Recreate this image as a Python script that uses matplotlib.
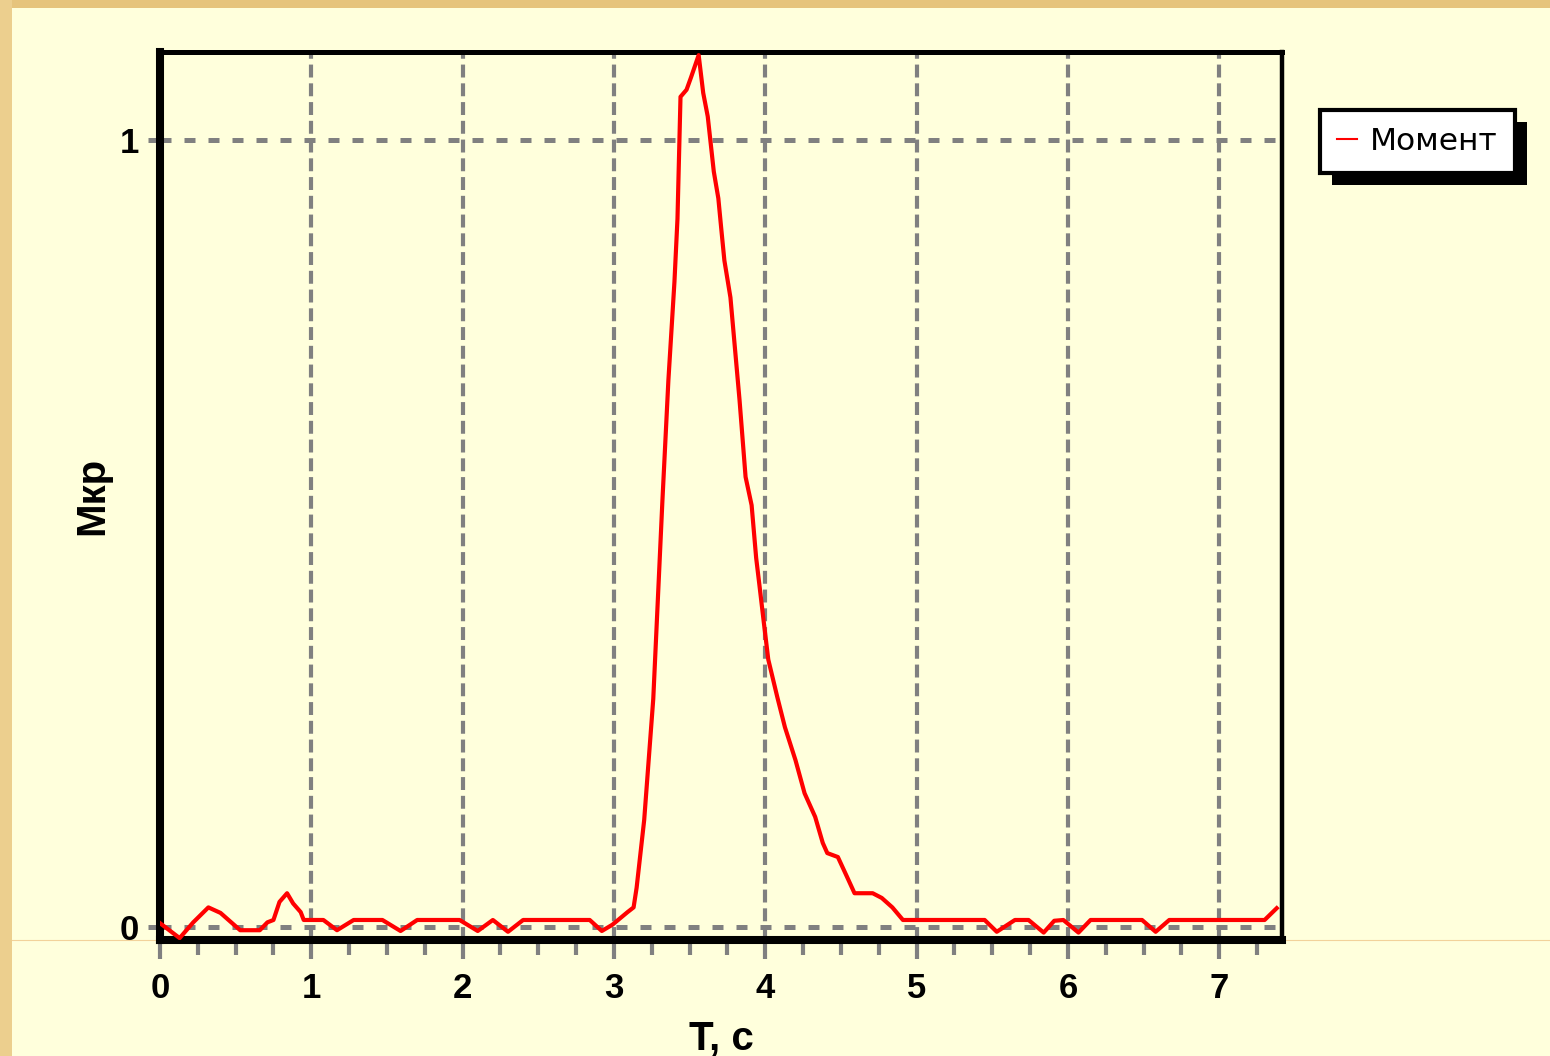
import matplotlib
matplotlib.use("Agg")
import matplotlib.pyplot as plt
from matplotlib.patches import Rectangle
from matplotlib.lines import Line2D
from matplotlib.ticker import MultipleLocator

# torque curve
t_sec = [0.0, 0.13, 0.22, 0.32, 0.40, 0.53, 0.66, 0.71, 0.75, 0.79, 0.84, 0.88, 0.93, 0.95,
         1.08, 1.17, 1.28, 1.47, 1.59, 1.70, 1.98, 2.10, 2.20, 2.30, 2.40, 2.84, 2.92, 2.99,
         3.09, 3.13, 3.15, 3.20, 3.26, 3.29, 3.32, 3.36, 3.40, 3.42, 3.44, 3.48, 3.51, 3.56,
         3.59, 3.62, 3.66, 3.69, 3.71, 3.73, 3.77, 3.83, 3.87, 3.91, 3.94, 3.96, 3.99, 4.02,
         4.08, 4.13, 4.20, 4.26, 4.33, 4.38, 4.41, 4.48, 4.54, 4.59, 4.71, 4.77, 4.84, 4.91,
         5.45, 5.53, 5.65, 5.74, 5.84, 5.91, 5.97, 6.07, 6.15, 6.49, 6.58, 6.67, 7.30, 7.38]
torque = [0.005, -0.014, 0.006, 0.025, 0.018, -0.004, -0.004, 0.006, 0.009, 0.032, 0.043, 0.030, 0.019, 0.009,
          0.009, -0.004, 0.009, 0.009, -0.005, 0.009, 0.009, -0.005, 0.009, -0.006, 0.009, 0.009, -0.005, 0.003,
          0.019, 0.025, 0.050, 0.136, 0.290, 0.415, 0.540, 0.695, 0.820, 0.900, 1.055, 1.064, 1.080, 1.108,
          1.060, 1.030, 0.960, 0.926, 0.886, 0.847, 0.800, 0.670, 0.572, 0.536, 0.469, 0.437, 0.388, 0.340,
          0.292, 0.254, 0.212, 0.170, 0.140, 0.107, 0.094, 0.089, 0.064, 0.043, 0.043, 0.037, 0.025, 0.009,
          0.009, -0.006, 0.009, 0.009, -0.007, 0.008, 0.009, -0.007, 0.009, 0.009, -0.006, 0.009, 0.009, 0.024]

x_ticks = [0, 1, 2, 3, 4, 5, 6, 7]
y_ticks = [0, 1]
series_name = "Момент"

cream = "#FFFFDC"
grey = "#808080"

plt.rcParams["font.family"] = ["Liberation Sans", "DejaVu Sans"]
plt.rcParams["font.weight"] = "bold"

fig = plt.figure(figsize=(15.5, 10.56), dpi=100, facecolor=cream)
ax = fig.add_axes([0.1032, 0.1098, 0.7239, 0.8410])
ax.set_facecolor(cream)

ax.plot(t_sec, torque, color="#FF0000", lw=3, zorder=3, label=series_name)

ax.set_xlim(0, 7.415)
ax.set_ylim(-0.0165, 1.112)
ax.set_xticks(x_ticks)
ax.set_yticks(y_ticks)
ax.xaxis.set_minor_locator(MultipleLocator(0.25))
ax.yaxis.set_minor_locator(MultipleLocator(0.25))

ax.grid(True, which="major", axis="x", color=grey, lw=3, dashes=(3.1, 1.4), zorder=1)
ax.grid(True, which="major", axis="y", color=grey, lw=3.6, dashes=(2.2, 2.6), zorder=1)
ax.set_axisbelow(True)

ax.tick_params(axis="x", which="major", length=14, width=3, color=grey, pad=9, labelsize=25)
ax.tick_params(axis="x", which="minor", length=11, width=3, color=grey)
ax.tick_params(axis="y", which="major", length=9, width=3.6, color=grey, pad=6, labelsize=25)
ax.tick_params(axis="y", which="minor", length=2, width=2, color=grey)

for side, w in [("left", 5.8), ("bottom", 5.8), ("top", 3.6), ("right", 3.2)]:
    ax.spines[side].set_linewidth(w)
    ax.spines[side].set_color("black")

ax.set_xlabel("T, c", fontsize=29, fontweight="bold")
ax.set_ylabel("Мкр", fontsize=29, fontweight="bold")
ax.xaxis.set_label_coords(0.5, -0.09)
ax.yaxis.set_label_coords(-0.043, 0.5)

leg = ax.legend(loc="upper left", bbox_to_anchor=(0.8516, 0.8958), bbox_transform=fig.transFigure,
                borderaxespad=0, fancybox=False, framealpha=1, edgecolor="black", facecolor="white",
                handlelength=0.65, handletextpad=0.4, borderpad=0.55,
                prop={"family": "DejaVu Sans", "weight": "normal", "size": 22.5})
leg.get_frame().set_linewidth(3)
leg.get_lines()[0].set_linewidth(1.5)

# black drop shadow behind the legend box
fig.canvas.draw()
bb = leg.get_frame().get_window_extent()
(x0, y0), (x1, y1) = fig.transFigure.inverted().transform([[bb.x0 + 12, bb.y0 - 12], [bb.x1 + 12, bb.y1 - 12]])
fig.add_artist(Rectangle((x0, y0), x1 - x0, y1 - y0, transform=fig.transFigure,
                         facecolor="black", edgecolor="none", zorder=-1))

# textured slide border along the top and left edges
fig.add_artist(Rectangle((0, 1 - 8 / 1056), 1, 8 / 1056, transform=fig.transFigure,
                         facecolor="#E6C47C", edgecolor="none", zorder=-2))
fig.add_artist(Rectangle((0, 0), 12 / 1550, 1, transform=fig.transFigure,
                         facecolor="#ECCF8E", edgecolor="none", zorder=-2))
fig.add_artist(Line2D([12 / 1550, 1], [116 / 1056, 116 / 1056], transform=fig.transFigure,
                      color="#F2D29A", lw=0.8, zorder=-2))

fig.savefig("out.png", dpi=100, facecolor=cream)
